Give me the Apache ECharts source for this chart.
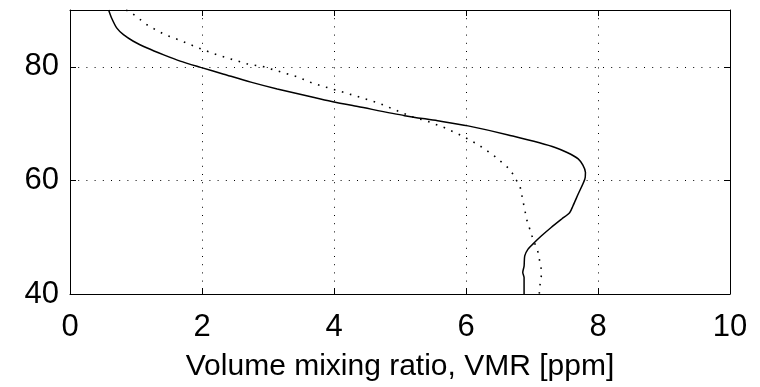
<!DOCTYPE html>
<html>
<head>
<meta charset="utf-8">
<script src="https://cdn.jsdelivr.net/npm/echarts@6/dist/echarts.min.js"></script>
<style>html,body{margin:0;padding:0;background:#fff;}#c{width:760px;height:387px;}</style>
</head>
<body>
<div id="c"></div>
<script>
// Solid profile: [VMR ppm, altitude]
const solidVMR = [0.585,0.63,0.71,0.81,0.96,1.17,1.42,1.67,1.98,2.33,2.74,3.14,3.70,4.00,4.36,5.07,5.57,6.03,6.64,7.35,7.70,7.81,7.80,7.70,7.62,7.57,7.45,7.29,7.14,7.04,6.94,6.89,6.88,6.86,6.88,6.88];
const solidAlt = [90,88.6,86.8,85.65,84.5,83.3,82.1,81.0,79.9,78.7,77.3,76.1,74.6,73.8,73.0,71.4,70.5,69.6,68.0,65.8,63.8,61.4,60.2,57.6,55.5,54.3,53.2,51.7,50.2,49.1,47.9,46.7,44.9,43.8,42.9,40];
// Dotted profile
const dotVMR = [0.85,0.93,1.19,1.43,1.68,1.93,2.18,2.43,2.69,2.94,3.19,3.43,3.68,3.94,4.18,4.43,4.68,4.93,5.18,5.42,5.67,5.93,6.17,6.42,6.67,6.82,6.87,6.92,7.00,7.09,7.14,7.14,7.12,7.11];
const dotAlt = [90,89.5,87.2,85.7,84.6,83.4,82.3,81.4,80.5,80.0,79.1,78.3,77.1,76.2,75.4,74.5,73.6,72.4,71.2,70.4,69.3,67.9,66.4,64.4,61.9,58.9,56.0,53.1,50.2,47.4,44.4,43.0,41.5,40];
const xTicks = [0,2,4,6,8,10];
const yTicks = [40,60,80];
const yMax = 90;
const xLabel = 'Volume mixing ratio, VMR [ppm]';

const solid = solidVMR.map((v,i)=>[v, solidAlt[i]]);
const dotted = dotVMR.map((v,i)=>[v, dotAlt[i]]);
const font = '"Liberation Sans", Arial, Helvetica, sans-serif';
const xInt = xTicks[1]-xTicks[0];
const yInt = yTicks[1]-yTicks[0];
const gridDots = {show:true, lineStyle:{color:'#000', width:1, type:[1,7.2]}};
const axLine = {show:true, onZero:false, lineStyle:{color:'#000', width:1}};

const chart = echarts.init(document.getElementById('c'), null, {renderer:'canvas'});
chart.setOption({
  animation:false,
  backgroundColor:'#fff',
  grid:{left:70, right:30, top:10, bottom:93, containLabel:false},
  xAxis:[{
    type:'value', min:xTicks[0], max:xTicks[xTicks.length-1], interval:xInt,
    position:'bottom',
    axisLine:axLine,
    axisTick:{show:true, inside:true, length:6, lineStyle:{color:'#000'}},
    axisLabel:{color:'#000', fontSize:31, fontFamily:font, margin:18},
    splitLine:gridDots,
    name:xLabel, nameLocation:'middle', nameGap:58,
    nameTextStyle:{color:'#000', fontSize:30, fontFamily:font}
  },{
    type:'value', min:xTicks[0], max:xTicks[xTicks.length-1], interval:xInt,
    position:'top',
    axisLine:axLine,
    axisTick:{show:true, inside:true, length:6, lineStyle:{color:'#000'}},
    axisLabel:{show:false}, splitLine:{show:false}
  }],
  yAxis:[{
    type:'value', min:yTicks[0], max:yMax, interval:yInt,
    position:'left',
    axisLine:axLine,
    axisTick:{show:true, inside:true, length:6, lineStyle:{color:'#000'}},
    axisLabel:{color:'#000', fontSize:31, fontFamily:font, margin:11, showMaxLabel:false,
      formatter:v=> yTicks.indexOf(v)>=0 ? String(v) : ''},
    splitLine:gridDots
  },{
    type:'value', min:yTicks[0], max:yMax, interval:yInt,
    position:'right',
    axisLine:axLine,
    axisTick:{show:true, inside:true, length:6, lineStyle:{color:'#000'}},
    axisLabel:{show:false}, splitLine:{show:false}
  }],
  series:[{
    type:'line', data:solid, xAxisIndex:0, yAxisIndex:0,
    showSymbol:false, symbol:'none', smooth:0.25,
    lineStyle:{color:'#000', width:1.5}
  },{
    type:'line', data:dotted, xAxisIndex:0, yAxisIndex:0,
    showSymbol:false, symbol:'none', smooth:false,
    lineStyle:{color:'#000', width:1.6, type:[1.6,6.7]}
  }]
});
</script>
</body>
</html>
